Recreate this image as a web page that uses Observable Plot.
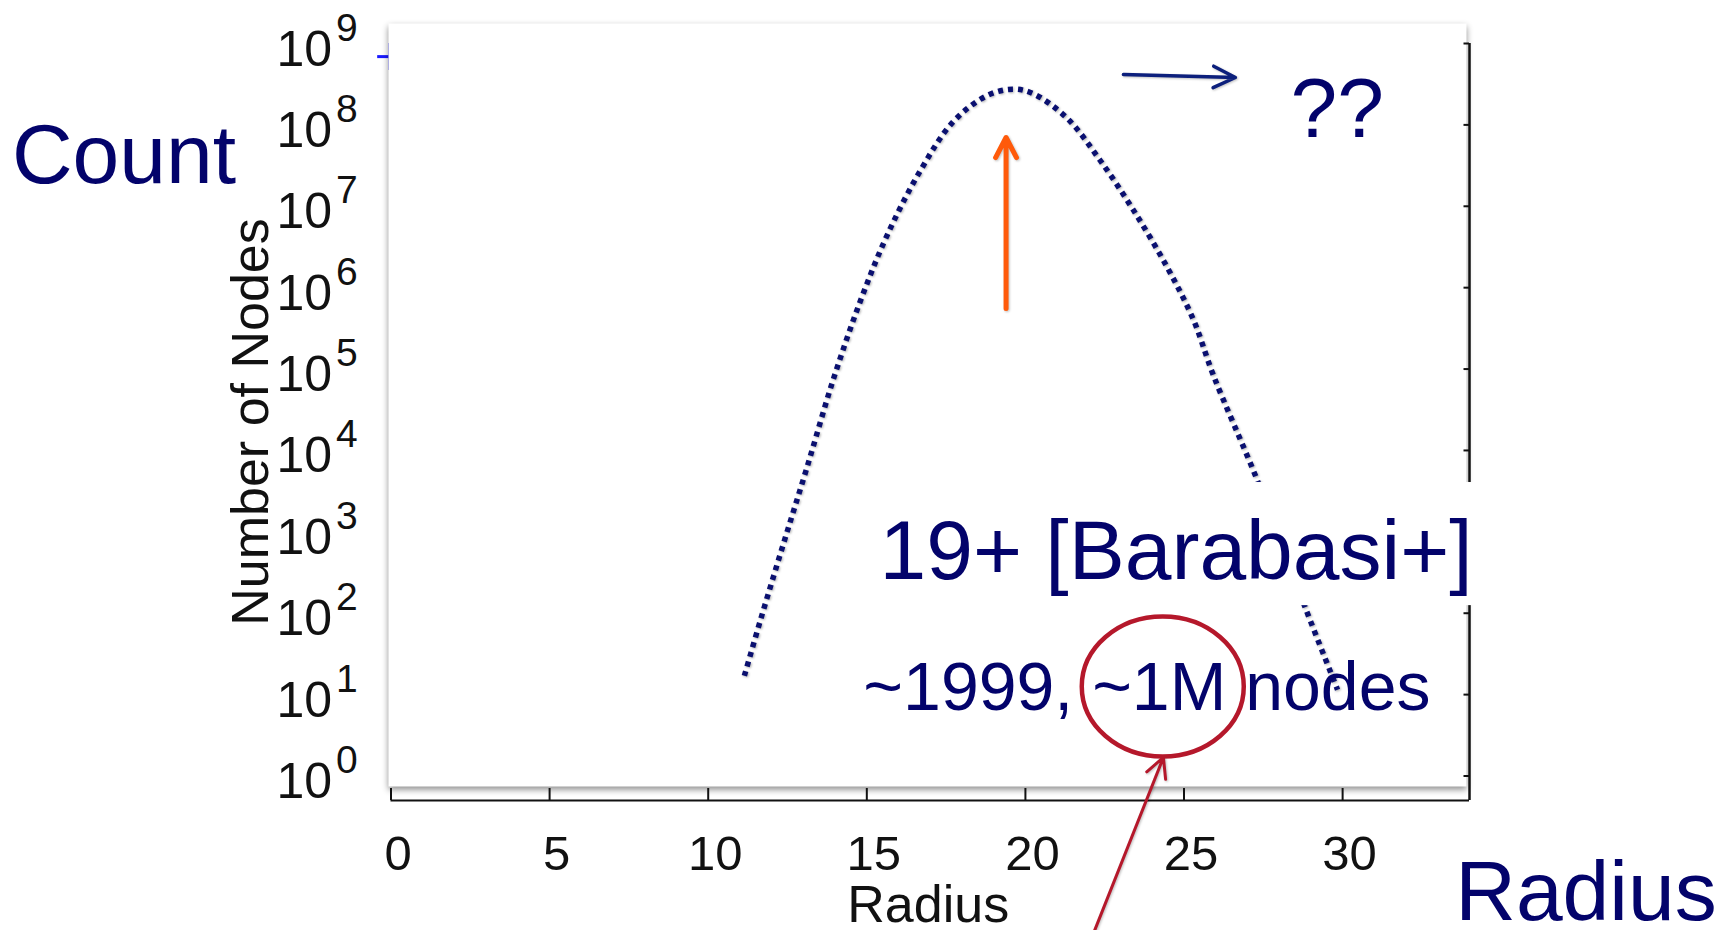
<!DOCTYPE html>
<html><head><meta charset="utf-8">
<script src="https://cdn.jsdelivr.net/npm/d3@7"></script>
<script src="https://cdn.jsdelivr.net/npm/@observablehq/plot@0.6"></script>
<style>
html,body{margin:0;padding:0;background:#fff;overflow:hidden}
#chart svg{display:block}
</style></head><body><div id="chart"></div>
<script>
// ---- data ----
const radius = [11.14, 11.65, 12.37, 13.12, 13.95, 14.80, 15.64, 16.69, 17.73, 18.80, 19.62,
                20.26, 21.32, 22.37, 23.41, 24.47, 25.30, 25.93, 27.31, 28.83, 29.84];
const nodeCount = [17, 83, 7.1e2, 6.3e3, 7.6e4, 6.9e5, 4.4e6, 2.75e7, 1.1e8, 2.3e8, 2.75e8,
                   2.4e8, 1.2e8, 3.6e7, 8.9e6, 1.78e6, 4.0e5, 8.3e4, 4.3e3, 115, 11.5];
const xTicks = [0, 5, 10, 15, 20, 25, 30];
const yTicks = [1, 10, 100, 1e3, 1e4, 1e5, 1e6, 1e7, 1e8, 1e9];
const yExponents = ["0", "1", "2", "3", "4", "5", "6", "7", "8", "9"];
const xTitle = "Radius";
const yTitle = "Number of Nodes";

// ---- annotations (positions in data units: radius, count) ----
const noteCount = {text: "Count", r: -11.95, c: 1.95e7};
const noteQ = {text: "??", r: 28.36, c: 7.0e7};
const noteRef = {text: "19+ [Barabasi+]", r: 15.40, c: 267};
const noteYear = {text: "~1999, ~1M nodes", r: 32.77, c: 6.56};
const noteRadius = {text: "Radius", r: 33.55, c: 0.017};
const arrowNavy = {r1: 23.09, c1: 4.16e8, r2: 26.62, c2: 3.82e8};
const arrowOrange = {r1: 19.39, c1: 5.55e5, r2: 19.39, c2: 7.0e7};
const arrowRed = {r1: 22.18, c1: 0.0126, r2: 24.35, c2: 1.69};
const ellipseAt = {r: 24.33, c: 12.6};
const coverBox = {r1: 15.12, r2: 34.35, c1: 124, c2: 4036};
const blueDash = {r1: -0.42, r2: 0, c: 6.9e8};
const blueBar = {r: -0.05, c1: 4.66e8, c2: 1e9};

const table = radius.map((r, i) => ({radius: r, count: nodeCount[i]}));
const yLab = yTicks.map((v, i) => ({v, e: yExponents[i]}));

const NAVY = "#03036b";
const ellipseSymbol = {
  draw(ctx) {
    const rx = 81, ry = 70, k = 0.5523;
    ctx.moveTo(rx, 0);
    ctx.bezierCurveTo(rx, k * ry, k * rx, ry, 0, ry);
    ctx.bezierCurveTo(-k * rx, ry, -rx, k * ry, -rx, 0);
    ctx.bezierCurveTo(-rx, -k * ry, -k * rx, -ry, 0, -ry);
    ctx.bezierCurveTo(k * rx, -ry, rx, -k * ry, rx, 0);
    ctx.closePath();
  }
};

const chart = Plot.plot({
  width: 1725, height: 930,
  marginLeft: 390.5, marginRight: 256, marginTop: 43, marginBottom: 130,
  x: {domain: [0, 34], axis: null},
  y: {type: "log", domain: [0.5, 1e9], axis: null},
  style: {fontFamily: "'Liberation Sans', Arial, sans-serif", background: "white", overflow: "visible"},
  marks: [
    Plot.ruleY([blueDash], {y: "c", x1: "r1", x2: "r2", stroke: "#1a1aff", strokeWidth: 3}),
    Plot.ruleX([blueBar], {x: "r", y1: "c1", y2: "c2", stroke: "#1a1aff", strokeWidth: 2}),
    Plot.frame({fill: "white", stroke: "none", insetTop: -20, insetBottom: 14, insetLeft: -2.5, insetRight: 3}),
    // axes
    Plot.ruleY([0.5], {stroke: "#111", strokeWidth: 2}),
    Plot.ruleX([34], {stroke: "#111", strokeWidth: 2.5}),
    Plot.tickX(xTicks, {x: d => d, insetTop: 745, stroke: "#111", strokeWidth: 2}),
    Plot.tickY(yTicks, {y: d => d, insetLeft: 1073, stroke: "#111", strokeWidth: 2}),
    Plot.text(xTicks, {x: d => d, text: d => String(d), frameAnchor: "bottom", dy: 69, dx: 7,
      lineAnchor: "bottom", textAnchor: "middle", fontSize: 49, fill: "#111"}),
    Plot.text(yLab, {y: "v", text: () => "10", frameAnchor: "left", dx: -59, dy: 22,
      textAnchor: "end", lineAnchor: "bottom", fontSize: 50, fill: "#111"}),
    Plot.text(yLab, {y: "v", text: "e", frameAnchor: "left", dx: -55, dy: -3,
      textAnchor: "start", lineAnchor: "bottom", fontSize: 39, fill: "#111"}),
    Plot.text([xTitle], {frameAnchor: "bottom", dy: 121, dx: -2, lineAnchor: "bottom",
      textAnchor: "middle", fontSize: 52, fill: "#111"}),
    Plot.text([yTitle], {frameAnchor: "left", dx: -123, rotate: -90, lineAnchor: "bottom",
      textAnchor: "middle", fontSize: 52, fill: "#111"}),
    // data curve
    Plot.line(table, {x: "radius", y: "count", curve: "catmull-rom", stroke: "#0a1070",
      strokeWidth: 5.5, strokeDasharray: "5 5", strokeLinecap: "butt"}),
    // annotations
    Plot.rect([coverBox], {x1: "r1", x2: "r2", y1: "c1", y2: "c2", fill: "white"}),
    Plot.arrow([arrowOrange], {x1: "r1", y1: "c1", x2: "r2", y2: "c2", stroke: "#ff5a0a",
      strokeWidth: 5, headLength: 6.8, headAngle: 55}),
    Plot.arrow([arrowNavy], {x1: "r1", y1: "c1", x2: "r2", y2: "c2", stroke: "#0c1f7c",
      strokeWidth: 3.5, headLength: 10.5, headAngle: 52}),
    Plot.arrow([arrowRed], {x1: "r1", y1: "c1", x2: "r2", y2: "c2", stroke: "#b5182b",
      strokeWidth: 3, headLength: 11, headAngle: 55}),
    Plot.dot([ellipseAt], {x: "r", y: "c", symbol: ellipseSymbol, fill: "none",
      stroke: "#b5182b", strokeWidth: 4.5}),
    Plot.text([noteCount], {x: "r", y: "c", text: "text", textAnchor: "start", lineAnchor: "bottom",
      fontSize: 84, fill: NAVY}),
    Plot.text([noteQ], {x: "r", y: "c", text: "text", textAnchor: "start", lineAnchor: "bottom",
      fontSize: 84, fill: NAVY}),
    Plot.text([noteRef], {x: "r", y: "c", text: "text", textAnchor: "start", lineAnchor: "bottom",
      fontSize: 84, fill: NAVY}),
    Plot.text([noteYear], {x: "r", y: "c", text: "text", textAnchor: "end", lineAnchor: "bottom",
      fontSize: 68, fill: NAVY}),
    Plot.text([noteRadius], {x: "r", y: "c", text: "text", textAnchor: "start", lineAnchor: "bottom",
      fontSize: 84, fill: NAVY})
  ]
});
document.getElementById("chart").appendChild(chart);
const s = d3.select(chart);
s.selectAll('[aria-label="frame"]').style("filter", "drop-shadow(0px 3px 3px rgba(0,0,0,0.45))");
s.selectAll('g[aria-label="line"]').style("filter", "drop-shadow(1px 1.5px 1px rgba(0,0,0,0.3))");
s.selectAll('g[aria-label="arrow"]').style("filter", "drop-shadow(1px 1.5px 1px rgba(0,0,0,0.25))");
</script></body></html>
